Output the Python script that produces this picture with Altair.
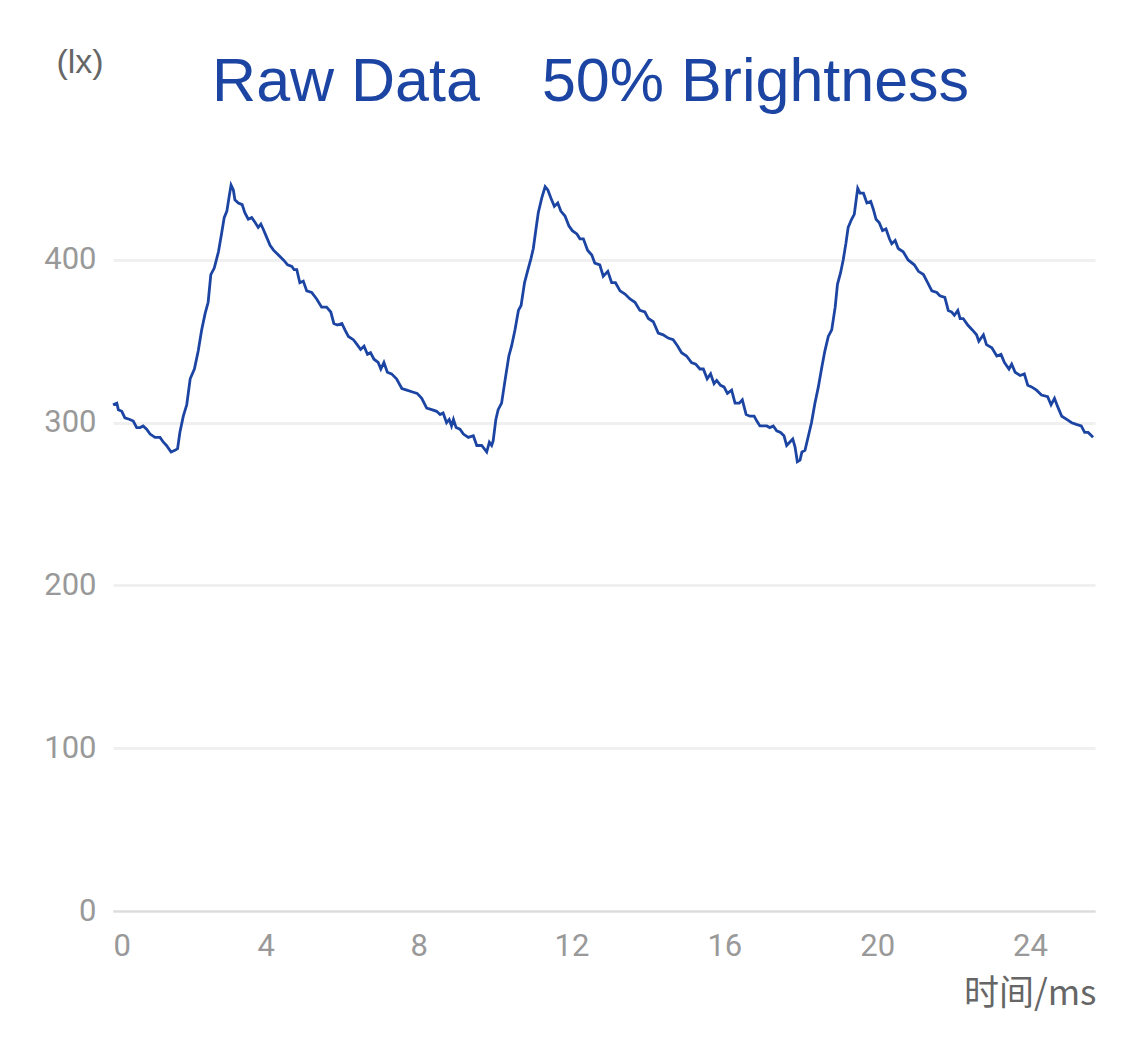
import altair as alt
import pandas as pd

TITLE_PARTS = ["Raw Data", "50% Brightness"]
Y_UNIT = "(lx)"
X_TITLE = "时间/ms"
X_TICKS = [0, 4, 8, 12, 16, 20, 24]
Y_TICKS = [0, 100, 200, 300, 400]

TIME_MS = [
    0.00, 0.10, 0.14, 0.23, 0.31, 0.44, 0.53, 0.62, 0.71, 0.79, 0.88, 0.97, 1.10, 1.23, 1.32, 1.40,
    1.52, 1.62, 1.69, 1.75, 1.84, 1.93, 2.02, 2.13, 2.23, 2.32, 2.41, 2.49, 2.56, 2.65, 2.76, 2.84,
    2.91, 2.98, 3.04, 3.09, 3.15, 3.19, 3.28, 3.38, 3.45, 3.54, 3.63, 3.72, 3.80, 3.87, 3.93, 4.02,
    4.11, 4.20, 4.33, 4.46, 4.57, 4.68, 4.74, 4.81,
    4.89, 4.98, 5.07, 5.20, 5.33, 5.46, 5.59, 5.70, 5.78, 5.87, 5.99, 6.07, 6.16, 6.29, 6.39, 6.48,
    6.57, 6.66, 6.74, 6.83, 6.94, 7.01, 7.09, 7.18, 7.29, 7.42, 7.56, 7.69, 7.82, 7.96, 8.08, 8.21,
    8.34, 8.47, 8.56, 8.64, 8.73, 8.80, 8.86, 8.91, 8.98, 9.08, 9.17, 9.30, 9.43, 9.52, 9.65, 9.78,
    9.85, 9.91, 9.95,
    10.02, 10.08, 10.17, 10.26, 10.36, 10.43, 10.52, 10.61, 10.68, 10.77, 10.86, 10.94, 11.00, 11.07,
    11.13, 11.22, 11.31, 11.38, 11.46, 11.55, 11.64, 11.72, 11.83, 11.93, 12.02, 12.14, 12.22, 12.31,
    12.42, 12.53, 12.61, 12.74, 12.83, 12.95, 13.05, 13.15, 13.27, 13.40, 13.53, 13.66, 13.79, 13.92,
    14.01, 14.14, 14.27, 14.40, 14.53, 14.66, 14.78, 14.88, 15.01, 15.14,
    15.25, 15.36, 15.45, 15.55, 15.64, 15.73, 15.80, 15.90, 15.99, 16.08, 16.19, 16.28, 16.39, 16.47,
    16.57, 16.67, 16.78, 16.85, 16.93, 17.02, 17.11, 17.19, 17.28, 17.37, 17.47, 17.56, 17.63, 17.71,
    17.79, 17.85, 17.91, 17.98, 18.03, 18.11, 18.20, 18.28, 18.37, 18.46, 18.55, 18.63, 18.72, 18.81,
    18.90, 18.96, 19.04, 19.11, 19.18, 19.24, 19.33, 19.40, 19.45, 19.49, 19.55, 19.64, 19.73, 19.83,
    19.90, 19.97, 20.05, 20.14, 20.23, 20.32,
    20.38, 20.47, 20.55, 20.68, 20.81, 20.97, 21.08, 21.21, 21.32, 21.43, 21.56, 21.64, 21.77, 21.86,
    21.95, 22.02, 22.11, 22.17, 22.25, 22.37, 22.49, 22.60, 22.66, 22.78, 22.86, 23.00, 23.13, 23.24,
    23.33, 23.45, 23.52, 23.61, 23.74, 23.85, 23.94, 24.04, 24.17, 24.30, 24.46, 24.55, 24.64, 24.72,
    24.83, 24.96, 25.09, 25.21, 25.34, 25.43, 25.52, 25.65,
]

LUX = [
    311, 312, 308, 307, 303, 302, 301, 297, 297, 298, 296, 293, 291, 291, 288, 286,
    282, 283, 284, 294, 304, 311, 327, 333, 344, 357, 367, 374, 391, 395, 405, 416,
    426, 430, 439, 446, 443, 437, 435, 434, 429, 425, 426, 423, 420, 422, 419, 414,
    409, 406, 403, 400, 397, 396, 394, 394,
    386, 387, 381, 380, 376, 371, 371, 368, 361, 360, 361, 357, 353, 351, 348, 345,
    347, 342, 343, 339, 337, 333, 337, 331, 330, 327, 321, 320, 319, 318, 315, 309,
    308, 307, 305, 306, 300, 302, 298, 302, 297, 296, 293, 291, 292, 286, 286, 282,
    288, 286, 289,
    302, 308, 312, 326, 341, 347, 357, 369, 372, 386, 394, 401, 407, 419,
    429, 438, 445, 443, 438, 433, 435, 430, 427, 421, 418, 416, 413, 413,
    406, 403, 398, 397, 390, 393, 386, 386, 381, 379, 376, 374, 369, 368,
    364, 362, 355, 354, 352, 351, 347, 343, 341, 337,
    336, 333, 333, 327, 330, 324, 326, 323, 322, 318, 320, 312, 312, 314,
    305, 304, 304, 301, 298, 298, 298, 297, 298, 295, 294, 292, 286, 288,
    290, 285, 276, 277, 282, 283, 292, 300, 312, 322, 334, 344, 353, 357,
    371, 385, 392, 400, 410, 420, 425, 428, 437, 444, 441, 441, 435, 436,
    431, 425, 423, 418, 419, 413,
    410, 412, 407, 405, 400, 397, 393, 391, 386, 381, 380, 378, 377, 369,
    368, 366, 369, 364, 364, 360, 357, 354, 350, 354, 348, 346, 341, 342,
    337, 333, 336, 331, 329, 330, 323, 322, 320, 317, 316, 311, 315, 310,
    304, 302, 300, 299, 298, 294, 294, 291,
]

df = pd.DataFrame({"t": TIME_MS, "lux": LUX})

LINE_COLOR = "#1c45a3"
TITLE_COLOR = "#1c45a3"

line = alt.Chart(df).mark_line(color=LINE_COLOR, strokeWidth=2.8, interpolate="linear").encode(
    x=alt.X(
        "t:Q",
        scale=alt.Scale(domain=[0, 25.7], nice=False, zero=False),
        axis=alt.Axis(
            values=X_TICKS,
            title=X_TITLE,
            titleX=983,
            titleY=82,
            titleAlign="right",
            titleBaseline="middle",
            titleAnchor="end",
            titleFont="Noto Sans CJK SC",
            titleFontSize=35,
            titleFontWeight="normal",
            titleColor="#666666",
            labelFont="Roboto",
            labelFontSize=31,
            labelColor="#999999",
            labelPadding=20,
            labelFlush=True,
            labelOverlap=False,
            ticks=False,
            tickSize=0,
            grid=False,
            domain=True,
            domainColor="#dcdcdc",
            domainWidth=2,
        ),
    ),
    y=alt.Y(
        "lux:Q",
        scale=alt.Scale(domain=[0, 470], nice=False),
        axis=alt.Axis(
            values=Y_TICKS,
            title=Y_UNIT,
            titleAngle=0,
            titleX=-33.5,
            titleY=-84,
            titleAlign="center",
            titleBaseline="middle",
            titleFont="Liberation Sans",
            titleFontSize=34,
            titleFontWeight="normal",
            titleColor="#666666",
            labelFont="Roboto",
            labelFontSize=31,
            labelColor="#999999",
            labelPadding=17,
            ticks=False,
            tickSize=0,
            domain=False,
            grid=True,
            gridColor="#f0f0f0",
            gridWidth=3,
        ),
    ),
)

title_left = alt.Chart(pd.DataFrame({"s": [TITLE_PARTS[0]]})).mark_text(
    font="Liberation Sans", fontSize=61, color=TITLE_COLOR, align="center", baseline="alphabetic"
).encode(text="s:N", x=alt.value(233), y=alt.value(-45))

title_right = alt.Chart(pd.DataFrame({"s": [TITLE_PARTS[1]]})).mark_text(
    font="Liberation Sans", fontSize=61, color=TITLE_COLOR, align="center", baseline="alphabetic"
).encode(text="s:N", x=alt.value(642.5), y=alt.value(-45))

chart = (
    alt.layer(line, title_left, title_right)
    .properties(
        width=982,
        height=765,
        autosize=alt.AutoSizeParams(type="none"),
        padding={"left": 105, "top": 138, "right": 20, "bottom": 110},
        background="white",
    )
    .configure_view(stroke=None)
)

chart.save("out.html", embed_options={"renderer": "svg", "actions": False})
